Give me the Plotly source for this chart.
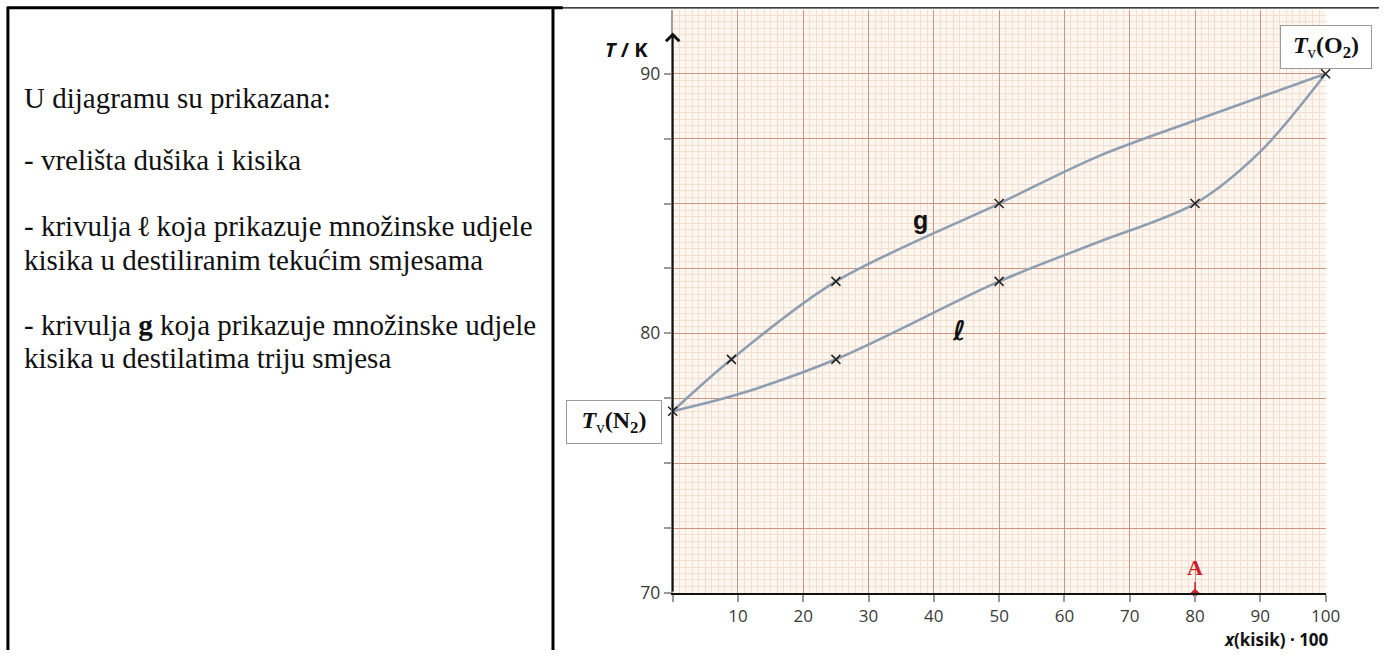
import plotly.graph_objects as go

W, H = 1394, 661

# ---------------- data ----------------
g_x = [0, 9, 25, 50, 65, 80, 100]
g_T = [77.0, 79.0, 82.0, 85.0, 86.8, 88.2, 90.0]
l_x = [0, 10, 25, 50, 65, 80, 90, 100]
l_T = [77.0, 77.65, 79.0, 82.0, 83.5, 85.0, 87.0, 90.0]
g_mark_x = [0, 9, 25, 50, 100]
g_mark_T = [77, 79, 82, 85, 90]
l_mark_x = [25, 50, 80]
l_mark_T = [79, 82, 85]
point_A_x = 80
point_A_T = 70
x_tick_vals = [0, 10, 20, 30, 40, 50, 60, 70, 80, 90, 100]
x_tick_text = ["", "10", "20", "30", "40", "50", "60", "70", "80", "90", "100"]
y_tick_vals = [70, 72.5, 75, 77.5, 80, 82.5, 85, 87.5, 90]
y_tick_text = ["70", "", "", "", "80", "", "", "", "90"]
x_mid_vals = [5, 15, 25, 35, 45, 55, 65, 75, 85, 95]
y_mid_vals = [71.25, 73.75, 76.25, 78.75, 81.25, 83.75, 86.25, 88.75, 91.25]

left_lines = [
    "U dijagramu su prikazana:",
    "- vrelišta dušika i kisika",
    "- krivulja <b>ℓ</b> koja prikazuje množinske udjele",
    "kisika u destiliranim tekućim smjesama",
    "- krivulja <b>g</b> koja prikazuje množinske udjele",
    "kisika u destilatima triju smjesa",
]
left_line_y = [100, 163, 230, 264, 330, 364]

# ---------------- styling ----------------
FINE = "#f2dfd2"
MID = "#e0bfb2"
DARK = "#cb9582"
PAPER_BG = "#fdf7ef"
CURVE = "#8d9db2"
SANS = "Open Sans, Liberation Sans, Arial, sans-serif"
ARIAL = "Liberation Sans, Arial, sans-serif"
SERIF = "Liberation Serif, Times New Roman, serif"

x0_px, x1_px = 680, 1340
y70_px, ytop_px = 603, 10
px_per_K = 26.4
y_top_val = 70 + (y70_px - ytop_px) / px_per_K

fig = go.Figure()

for xs, ys in ((g_x, g_T), (l_x, l_T)):
    fig.add_trace(go.Scatter(x=xs, y=ys, mode="lines",
                             line=dict(color=CURVE, width=2.6, shape="spline", smoothing=0.9),
                             hoverinfo="skip", showlegend=False))
for xs, ys in ((g_mark_x, g_mark_T), (l_mark_x, l_mark_T)):
    fig.add_trace(go.Scatter(x=xs, y=ys, mode="markers",
                             marker=dict(symbol="x-thin", size=9, line=dict(color="#222", width=1.6)),
                             cliponaxis=False, showlegend=False))
fig.add_trace(go.Scatter(x=[point_A_x], y=[point_A_T], mode="markers",
                         marker=dict(symbol="diamond", size=7, color="#d0202a"),
                         cliponaxis=False, showlegend=False))

xdom = [x0_px / W, x1_px / W]
ydom = [(H - y70_px) / H, (H - ytop_px) / H]

fig.update_layout(
    width=W, height=H,
    margin=dict(l=0, r=0, t=0, b=0),
    paper_bgcolor="white",
    plot_bgcolor=PAPER_BG,
    xaxis=dict(domain=xdom, range=[0, 100], anchor="y",
               tickmode="array", tickvals=x_tick_vals, ticktext=x_tick_text,
               showgrid=True, gridcolor=DARK, gridwidth=1.3,
               minor=dict(tickmode="linear", tick0=0, dtick=1, showgrid=True, gridcolor=FINE, gridwidth=1, ticks=""),
               ticks="outside", ticklen=7, tickcolor="#999", tickwidth=1.5,
               tickfont=dict(family=SANS, size=17, color="#3a3a3a"),
               showline=True, linecolor="#111", linewidth=2, zeroline=False, fixedrange=True),
    xaxis2=dict(overlaying="x", matches="x", anchor="y", side="top",
                tickmode="array", tickvals=x_mid_vals, showticklabels=False, ticks="",
                showgrid=True, gridcolor=MID, gridwidth=1, showline=False, zeroline=False),
    yaxis=dict(domain=ydom, range=[70, y_top_val], anchor="x",
               tickmode="array", tickvals=y_tick_vals, ticktext=y_tick_text,
               showgrid=True, gridcolor=DARK, gridwidth=1.3,
               minor=dict(tickmode="linear", tick0=70, dtick=0.25, showgrid=True, gridcolor=FINE, gridwidth=1, ticks=""),
               ticks="outside", ticklen=7, tickcolor="#999", tickwidth=1.5,
               tickfont=dict(family=SANS, size=17.5, color="#3a3a3a"),
               showline=True, linecolor="#a0a0a0", linewidth=2, zeroline=False, fixedrange=True),
    yaxis2=dict(overlaying="y", matches="y", anchor="x", side="right",
                tickmode="array", tickvals=y_mid_vals, showticklabels=False, ticks="",
                showgrid=True, gridcolor=MID, gridwidth=1,
                showline=True, linecolor="#111", linewidth=2, zeroline=False),
)

ann = []
# y axis arrow
ann.append(dict(x=0, y=70 + (y70_px - 33) / px_per_K, xref="x", yref="y", ax=0, ay=70, axref="x", ayref="y",
                text="", showarrow=True, arrowhead=4, arrowsize=1.3, arrowwidth=2, arrowcolor="#111"))
ann.append(dict(x=657 / W, y=1 - 50 / H, xref="paper", yref="paper", xanchor="right", yanchor="middle",
                text="<b><i>T</i> / K</b>", showarrow=False, font=dict(family=SANS, size=20, color="#111")))
ann.append(dict(x=1345 / W, y=1 - 650 / H, xref="paper", yref="paper", xanchor="right", yanchor="middle",
                text="<b><i>x</i>(kisik) · 100</b>", showarrow=False, font=dict(family=SANS, size=17, color="#111")))
# boxes
ann.append(dict(x=0, y=g_mark_T[0], xref="x", yref="y", xanchor="right", yanchor="middle", xshift=-11, yshift=-11,
                text="<b><i>T</i></b><sub>v</sub><b>(N<sub>2</sub>)</b>", showarrow=False,
                font=dict(family=SERIF, size=24, color="#111"), bgcolor="white", bordercolor="#9a9a9a",
                borderwidth=1, width=92, height=40))
ann.append(dict(x=100, y=g_mark_T[-1], xref="x", yref="y", xanchor="center", yanchor="middle", yshift=27,
                text="<b><i>T</i></b><sub>v</sub><b>(O<sub>2</sub>)</b>", showarrow=False,
                font=dict(family=SERIF, size=24, color="#111"), bgcolor="white", bordercolor="#9a9a9a",
                borderwidth=1, width=88, height=40))
# curve labels
ann.append(dict(x=37.9, y=84.35, xref="x", yref="y", text="<b>g</b>", showarrow=False,
                font=dict(family=ARIAL, size=25, color="#111")))
ann.append(dict(x=43.9, y=80.1, xref="x", yref="y", text="<b><i>ℓ</i></b>", showarrow=False,
                font=dict(family="DejaVu Sans", size=27, color="#111")))
# point A
ann.append(dict(x=point_A_x, y=point_A_T, xref="x", yref="y", ax=0, ay=-25, text="<b>A</b>", showarrow=True,
                arrowhead=0, arrowwidth=1.5, arrowcolor="#d0202a", standoff=3,
                font=dict(family=SERIF, size=22, color="#d0202a")))
# left text
for t, yy in zip(left_lines, left_line_y):
    ann.append(dict(x=22 / W, y=1 - yy / H, xref="paper", yref="paper", xanchor="left", yanchor="middle",
                    text=t, showarrow=False, font=dict(family=SERIF, size=29, color="#111")))
fig.update_layout(annotations=ann)

# table borders
shapes = [
    dict(type="line", xref="paper", yref="paper", x0=8 / W, x1=8 / W, y0=0, y1=1 - 7 / H, line=dict(color="black", width=3)),
    dict(type="line", xref="paper", yref="paper", x0=7 / W, x1=569 / W, y0=1 - 8 / H, y1=1 - 8 / H, line=dict(color="black", width=3)),
    dict(type="line", xref="paper", yref="paper", x0=569 / W, x1=1, y0=1 - 8 / H, y1=1 - 8 / H, line=dict(color="black", width=1.2)),
    dict(type="line", xref="paper", yref="paper", x0=559 / W, x1=559 / W, y0=0, y1=1 - 7 / H, line=dict(color="black", width=3)),
]
fig.update_layout(shapes=shapes)

fig.write_html("out.html", config={"displayModeBar": False},
               post_script="document.body.style.margin='0';document.body.style.overflow='hidden';")
